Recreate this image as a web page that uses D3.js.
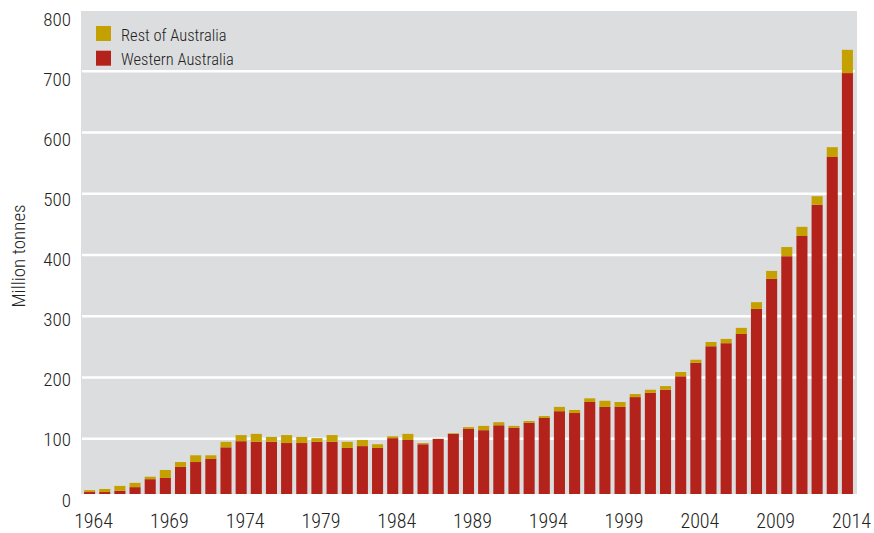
<!DOCTYPE html>
<html>
<head>
<meta charset="utf-8">
<script src="https://cdn.jsdelivr.net/npm/d3@7"></script>
<style>
  body { margin: 0; background: #fff; }
  svg text { font-family: "Liberation Sans Narrow", "Roboto Condensed", "DejaVu Sans Condensed", sans-serif; font-weight: 300; fill: #222; }
</style>
</head>
<body>
<div id="chart"></div>
<script>
// years on the x axis
let years = d3.range(1964, 2015);
let tickYears = [1964, 1969, 1974, 1979, 1984, 1989, 1994, 1999, 2004, 2009, 2014];
let yTicks = [0, 100, 200, 300, 400, 500, 600, 700, 800];
let gridTicks = [100, 200, 300, 400, 500, 600, 700];

// Million tonnes
let western = [13, 13, 15, 21, 34, 36, 54, 62, 67, 86, 96, 95, 95, 93, 93, 95, 95,
  85, 88, 85, 101, 98, 91, 99.6, 108, 116, 114, 122, 118, 126, 134, 145, 142, 160,
  152, 152, 168, 175, 180, 202, 224, 251, 256, 271, 312, 361, 398, 431, 482, 560, 697];
let total = [16, 18, 23, 28, 38, 49, 62, 73, 73, 95, 106, 108, 103, 106, 103, 101, 106,
  95, 98, 91, 104, 108, 93, 100, 109, 119, 121, 127, 121, 129, 137, 152, 147, 166,
  162, 160, 173, 180, 186, 209, 229, 258, 263, 281, 323, 374, 413, 446, 496, 576, 735];
let rest = total.map((t, i) => Math.max(0, t - western[i]));

let seriesNames = ["Western Australia", "Rest of Australia"];
let colors = ["#b3231b", "#c4a000"];

let width = 874, height = 533;
let plotLeft = 81, plotRight = 857, plotTop = 11, plotBottom = 494;

let svg = d3.select("#chart").append("svg")
  .attr("width", width)
  .attr("height", height);

let x = d3.scaleBand()
  .domain(years)
  .range([82, 855])
  .paddingInner(0.27)
  .paddingOuter(0.135);

let y = d3.scaleLinear()
  .domain([0, 800])
  .range([500, 10]);

// tick labels sit a little off the grid in the original
let yLab = d3.scaleLinear()
  .domain([0, 800])
  .range([500, 19]);

// plot background
svg.append("rect")
  .attr("x", plotLeft)
  .attr("y", plotTop)
  .attr("width", plotRight - plotLeft)
  .attr("height", plotBottom - plotTop)
  .attr("fill", "#dcdddf");

svg.append("clipPath").attr("id", "plotClip")
  .append("rect")
  .attr("x", plotLeft)
  .attr("y", plotTop)
  .attr("width", plotRight - plotLeft)
  .attr("height", plotBottom - plotTop);

// gridlines
svg.append("g").selectAll("line")
  .data(gridTicks)
  .enter().append("line")
  .attr("x1", 82)
  .attr("x2", 855)
  .attr("y1", d => y(d))
  .attr("y2", d => y(d))
  .attr("stroke", "#fff")
  .attr("stroke-width", 2.5);

// stacked bars
let table = years.map((yr, i) => ({ year: yr, "Western Australia": western[i], "Rest of Australia": rest[i] }));
let stacked = d3.stack().keys(seriesNames)(table);

svg.append("g")
  .attr("clip-path", "url(#plotClip)")
  .selectAll("g")
  .data(stacked)
  .enter().append("g")
  .attr("fill", (d, i) => colors[i])
  .selectAll("rect")
  .data(d => d)
  .enter().append("rect")
  .attr("x", d => x(d.data.year))
  .attr("width", x.bandwidth())
  .attr("y", d => y(d[1]))
  .attr("height", d => y(d[0]) - y(d[1]));

// y axis labels
let yAxis = d3.axisLeft(yLab)
  .tickValues(yTicks)
  .tickSize(0)
  .tickPadding(0)
  .tickFormat(d3.format("d"));

svg.append("g")
  .attr("transform", "translate(71,0)")
  .call(yAxis)
  .call(g => g.select(".domain").remove())
  .selectAll("text")
  .attr("font-size", 19)
  .style("font-family", null)
  .attr("fill", "#222");

// x axis labels
let xAxis = d3.axisBottom(x)
  .tickValues(tickYears)
  .tickSize(0)
  .tickPadding(0);

svg.append("g")
  .attr("transform", "translate(4,0)")
  .call(xAxis)
  .call(g => g.select(".domain").remove())
  .selectAll("text")
  .attr("y", 528)
  .attr("dy", null)
  .attr("font-size", 20)
  .attr("fill", "#222");

// axis title
svg.append("text")
  .attr("transform", "translate(25,256) rotate(-90)")
  .attr("text-anchor", "middle")
  .attr("font-size", 19)
  .text("Million tonnes");

// legend
let legendItems = [
  { label: "Rest of Australia", color: colors[1] },
  { label: "Western Australia", color: colors[0] }
];

let legend = svg.append("g").selectAll("g")
  .data(legendItems)
  .enter().append("g")
  .attr("transform", (d, i) => "translate(96," + (26 + i * 24.7) + ")");

legend.append("rect")
  .attr("width", 15)
  .attr("height", 15)
  .attr("fill", d => d.color);

legend.append("text")
  .attr("x", 25)
  .attr("y", 14.5)
  .attr("font-size", 16.5)
  .text(d => d.label);
</script>
</body>
</html>
